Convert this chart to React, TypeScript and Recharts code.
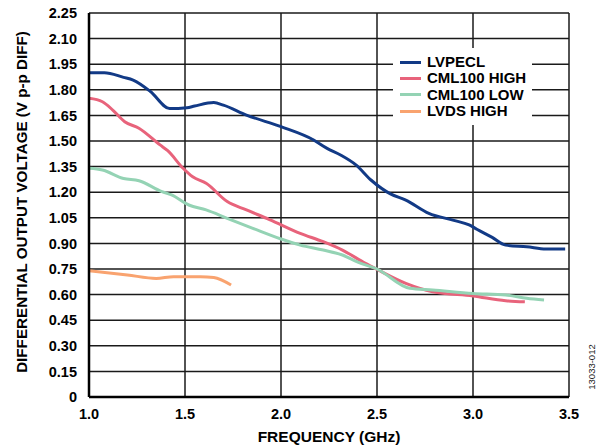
import React from 'react';
import { LineChart, Line, XAxis, YAxis, CartesianGrid, Legend, Label } from 'recharts';

// frequency (GHz) / differential output voltage (V p-p) per output mode
const lvpeclFreq = [1.0, 1.08, 1.18, 1.23, 1.32, 1.42, 1.51, 1.55, 1.65, 1.7, 1.82, 2.0, 2.17, 2.24, 2.31, 2.39, 2.47, 2.57, 2.65, 2.77, 2.9, 2.98, 3.02, 3.1, 3.17, 3.28, 3.38, 3.48];
const lvpeclVolt = [1.9, 1.9, 1.873, 1.857, 1.79, 1.69, 1.695, 1.705, 1.725, 1.71, 1.652, 1.584, 1.506, 1.457, 1.418, 1.36, 1.27, 1.19, 1.154, 1.076, 1.035, 1.008, 0.983, 0.935, 0.89, 0.88, 0.867, 0.867];

const cmlHighFreq = [1.0, 1.07, 1.125, 1.186, 1.26, 1.37, 1.41, 1.49, 1.54, 1.61, 1.72, 1.82, 1.94, 2.1, 2.22, 2.32, 2.44, 2.5, 2.65, 2.79, 3.0, 3.17, 3.27];
const cmlHighVolt = [1.75, 1.73, 1.68, 1.613, 1.575, 1.477, 1.443, 1.34, 1.29, 1.252, 1.145, 1.096, 1.04, 0.959, 0.91, 0.861, 0.783, 0.748, 0.666, 0.617, 0.592, 0.564, 0.558];

const cmlLowFreq = [1.0, 1.07, 1.18, 1.26, 1.38, 1.43, 1.52, 1.61, 1.72, 1.85, 2.0, 2.1, 2.22, 2.32, 2.4, 2.5, 2.67, 2.79, 3.0, 3.17, 3.28, 3.37];
const cmlLowVolt = [1.34, 1.33, 1.28, 1.267, 1.203, 1.184, 1.125, 1.096, 1.047, 0.99, 0.926, 0.89, 0.861, 0.832, 0.79, 0.75, 0.637, 0.627, 0.607, 0.598, 0.578, 0.568];

const lvdsHighFreq = [1.0, 1.2, 1.35, 1.44, 1.58, 1.65, 1.74];
const lvdsHighVolt = [0.74, 0.715, 0.695, 0.705, 0.705, 0.7, 0.656];

const xTicks = [1.0, 1.5, 2.0, 2.5, 3.0, 3.5];
const yTicks = [0, 0.15, 0.3, 0.45, 0.6, 0.75, 0.9, 1.05, 1.2, 1.35, 1.5, 1.65, 1.8, 1.95, 2.1, 2.25];

const zip = (f: number[], v: number[]) => f.map((x, i) => ({ f: x, v: v[i] }));

const series = [
  { name: 'LVPECL', color: '#123a86', data: zip(lvpeclFreq, lvpeclVolt) },
  { name: 'CML100 HIGH', color: '#e8637b', data: zip(cmlHighFreq, cmlHighVolt) },
  { name: 'CML100 LOW', color: '#94d3b4', data: zip(cmlLowFreq, cmlLowVolt) },
  { name: 'LVDS HIGH', color: '#f9a36f', data: zip(lvdsHighFreq, lvdsHighVolt) },
];

const FONT = '"Liberation Sans", Arial, sans-serif';
const tickStyle = { fill: '#000', fontSize: 14.5, fontWeight: 700, fontFamily: FONT };

const LegendBox = () => (
  <div style={{ background: '#fff', padding: '6px 6px 6px 7px', fontFamily: FONT, fontWeight: 700, fontSize: 15, lineHeight: '16.3px', color: '#000' }}>
    {series.map(s => (
      <div key={s.name} style={{ display: 'flex', alignItems: 'center', whiteSpace: 'nowrap' }}>
        <span style={{ display: 'inline-block', width: 21, height: 3, background: s.color, marginRight: 6 }} />
        {s.name}
      </div>
    ))}
  </div>
);

// rotated y-axis title, centred on the plot height
const YTitle = (props: any) => {
  const vb = props.viewBox || { x: 0, y: 13, width: 89, height: 384 };
  const cy = vb.y + vb.height / 2 - 3;
  return (
    <text
      transform={`translate(21, ${cy}) rotate(-90)`}
      textAnchor="middle"
      dominantBaseline="central"
      fill="#000"
      fontSize={15.2}
      fontWeight={700}
      fontFamily={FONT}
    >
      DIFFERENTIAL OUTPUT VOLTAGE (V p-p DIFF)
    </text>
  );
};

export default function App() {
  return (
    <div style={{ position: 'absolute', left: 0, top: 0, width: 602, height: 448, background: '#fff' }}>
      <LineChart width={602} height={448} margin={{ top: 13, right: 33, bottom: 0, left: 0 }}>
        <CartesianGrid stroke="#1a1a1a" strokeWidth={1.5} horizontalValues={yTicks} verticalValues={xTicks} />
        <XAxis
          type="number"
          dataKey="f"
          domain={[1, 3.5]}
          ticks={xTicks}
          tickFormatter={(t: number) => t.toFixed(1)}
          tick={tickStyle}
          tickLine={false}
          axisLine={{ stroke: '#000', strokeWidth: 2.5 }}
          height={51}
          tickMargin={6}
          allowDataOverflow
        >
          <Label value="FREQUENCY (GHz)" position="insideBottom" offset={6} style={{ fill: '#000', fontSize: 15.5, fontWeight: 700, fontFamily: FONT }} />
        </XAxis>
        <YAxis
          type="number"
          domain={[0, 2.25]}
          ticks={yTicks}
          tickFormatter={(t: number) => (t === 0 ? '0' : t.toFixed(2))}
          tick={tickStyle}
          tickLine={false}
          axisLine={{ stroke: '#000', strokeWidth: 2.5 }}
          width={89}
          tickMargin={6}
          interval={0}
        >
          <Label content={<YTitle />} />
        </YAxis>
        <Legend
          layout="vertical"
          verticalAlign="middle"
          align="center"
          content={<LegendBox />}
          wrapperStyle={{ left: 393, top: 48, width: 'auto' }}
        />
        {series.map(s => (
          <Line
            key={s.name}
            data={s.data}
            dataKey="v"
            name={s.name}
            type="monotone"
            stroke={s.color}
            strokeWidth={3}
            dot={false}
            isAnimationActive={false}
          />
        ))}
        <text
          transform="translate(591.5, 367) rotate(-90)"
          textAnchor="middle"
          dominantBaseline="central"
          fontSize={9.5}
          fill="#222"
          fontFamily={FONT}
        >
          13033-012
        </text>
      </LineChart>
    </div>
  );
}
